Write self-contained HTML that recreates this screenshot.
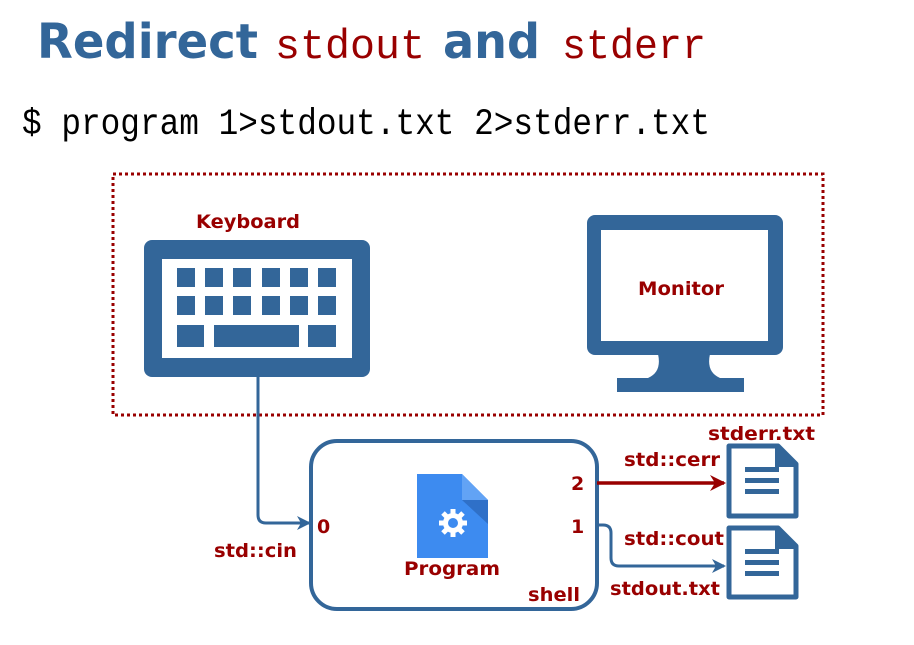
<!DOCTYPE html>
<html><head><meta charset="utf-8"><style>
html,body{margin:0;padding:0;background:#fff;}
svg{display:block;}
</style></head><body>
<svg width="914" height="645" viewBox="0 0 914 645" xmlns="http://www.w3.org/2000/svg">
<defs>
<marker id="ab" markerWidth="14" markerHeight="14" refX="12" refY="7" orient="auto" markerUnits="userSpaceOnUse"><path d="M0,0 L14,7 L0,14 L4,7 Z" fill="#336699"/></marker>
<marker id="ar" markerWidth="16" markerHeight="16" refX="14" refY="8" orient="auto" markerUnits="userSpaceOnUse"><path d="M0,0 L16,8 L0,16 L5,8 Z" fill="#990000"/></marker>
</defs>
<g font-family="DejaVu Sans, Liberation Sans, sans-serif">
<text x="37" y="58" font-size="48" font-weight="bold" fill="#336699" textLength="221" lengthAdjust="spacingAndGlyphs">Redirect</text>
<text x="275" y="58" font-family="Liberation Mono, monospace" font-size="42" fill="#990000" textLength="150" lengthAdjust="spacingAndGlyphs">stdout</text>
<text x="443" y="58" font-size="48" font-weight="bold" fill="#336699" textLength="97" lengthAdjust="spacingAndGlyphs">and</text>
<text x="562" y="58" font-family="Liberation Mono, monospace" font-size="42" fill="#990000" textLength="144" lengthAdjust="spacingAndGlyphs">stderr</text>
<text x="22" y="134" font-family="Liberation Mono, monospace" font-size="37" fill="#000" textLength="688" lengthAdjust="spacingAndGlyphs">$ program 1&gt;stdout.txt 2&gt;stderr.txt</text>
</g>
<rect x="113" y="174" width="710" height="241" fill="none" stroke="#990000" stroke-width="3" stroke-dasharray="3,3"/>
<!-- keyboard -->
<rect x="144" y="240" width="226" height="137" rx="8" fill="#336699"/>
<rect x="162" y="259" width="190" height="99" fill="#fff"/>
<g fill="#336699">
<rect x="177" y="268" width="18" height="19"/><rect x="205" y="268" width="18" height="19"/><rect x="233" y="268" width="18" height="19"/><rect x="262" y="268" width="18" height="19"/><rect x="290" y="268" width="18" height="19"/><rect x="318" y="268" width="18" height="19"/>
<rect x="177" y="296" width="18" height="19"/><rect x="205" y="296" width="18" height="19"/><rect x="233" y="296" width="18" height="19"/><rect x="262" y="296" width="18" height="19"/><rect x="290" y="296" width="18" height="19"/><rect x="318" y="296" width="18" height="19"/>
<rect x="177" y="325" width="27" height="22"/><rect x="214" y="325" width="85" height="22"/><rect x="308" y="325" width="28" height="22"/>
</g>
<!-- monitor -->
<rect x="587" y="215" width="196" height="140" rx="8" fill="#336699"/>
<rect x="601" y="230" width="167" height="111" fill="#fff"/>
<path d="M658,354 L710,354 Q706,372 720,378 L744,378 L744,392 L617,392 L617,378 L648,378 Q662,372 658,354 Z" fill="#336699"/>
<!-- shell -->
<rect x="311" y="441" width="286" height="168" rx="26" fill="none" stroke="#336699" stroke-width="4"/>
<!-- program doc -->
<path d="M417,474 L462,474 L488,500 L488,558 L417,558 Z" fill="#3d8bf0"/>
<path d="M462,474 L462,500 L488,500 Z" fill="#62a3f5"/>
<path d="M462,500 L488,500 L488,524 Z" fill="#2f70c8"/>
<g fill="#fff"><circle cx="453" cy="523" r="10"/>
<g stroke="#fff" stroke-width="5"><line x1="453" y1="509" x2="453" y2="537"/><line x1="439" y1="523" x2="467" y2="523"/><line x1="443" y1="513" x2="463" y2="533"/><line x1="463" y1="513" x2="443" y2="533"/></g></g>
<circle cx="453" cy="523" r="5" fill="#3d8bf0"/>
<!-- files -->
<g fill="none" stroke="#336699" stroke-width="5" stroke-linejoin="round">
<path d="M729,446 L778,446 L796,464 L796,516 L729,516 Z"/>
<path d="M729,528 L778,528 L796,546 L796,597 L729,597 Z"/>
</g>
<g fill="#336699">
<path d="M775,446 L796,467 L775,467 Z"/><path d="M775,528 L796,549 L775,549 Z"/>
<rect x="745" y="467" width="34" height="5"/><rect x="745" y="478" width="34" height="5"/><rect x="745" y="489" width="34" height="5"/>
<rect x="745" y="549" width="34" height="5"/><rect x="745" y="560" width="34" height="5"/><rect x="745" y="571" width="34" height="5"/>
</g>
<!-- connectors -->
<path d="M258,377 L258,515 Q258,523 266,523 L309,523" fill="none" stroke="#336699" stroke-width="3" marker-end="url(#ab)"/>
<path d="M597,483 L724,483" fill="none" stroke="#990000" stroke-width="3.5" marker-end="url(#ar)"/>
<path d="M597,525 L603,525 Q611,525 611,533 L611,558 Q611,566 619,566 L724,566" fill="none" stroke="#336699" stroke-width="3" marker-end="url(#ab)"/>
<g font-family="DejaVu Sans, Liberation Sans, sans-serif" font-weight="bold" fill="#990000" font-size="19" lengthAdjust="spacingAndGlyphs">
<text x="196" y="228" textLength="104" lengthAdjust="spacingAndGlyphs">Keyboard</text>
<text x="638" y="295" textLength="86" lengthAdjust="spacingAndGlyphs">Monitor</text>
<text x="708" y="440" textLength="107" lengthAdjust="spacingAndGlyphs">stderr.txt</text>
<text x="624" y="466" textLength="96" lengthAdjust="spacingAndGlyphs">std::cerr</text>
<text x="624" y="545" textLength="100" lengthAdjust="spacingAndGlyphs">std::cout</text>
<text x="610" y="595" textLength="110" lengthAdjust="spacingAndGlyphs">stdout.txt</text>
<text x="214" y="557" textLength="83" lengthAdjust="spacingAndGlyphs">std::cin</text>
<text x="404" y="575" textLength="96" lengthAdjust="spacingAndGlyphs">Program</text>
<text x="528" y="601" textLength="52" lengthAdjust="spacingAndGlyphs">shell</text>
<text x="317" y="533">0</text>
<text x="571" y="490">2</text>
<text x="571" y="533">1</text>
</g>
</svg>
</body></html>
